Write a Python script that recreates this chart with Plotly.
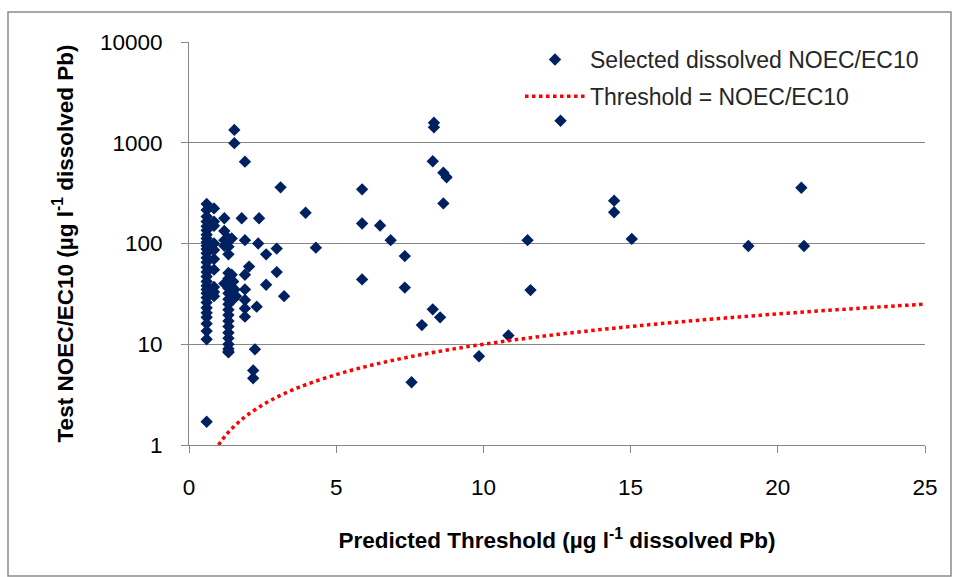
import plotly.graph_objects as go

# Selected dissolved NOEC/EC10 vs predicted threshold
pred_threshold = [
    # x ~0.6 dense column
    0.6, 0.6, 0.6, 0.6, 0.6, 0.6, 0.6, 0.6, 0.6, 0.6,
    0.6, 0.6, 0.6, 0.6, 0.6, 0.6, 0.6, 0.6, 0.6, 0.6,
    0.6, 0.6, 0.6, 0.6, 0.6, 0.6, 0.6, 0.6, 0.6, 0.6,
    # x ~0.85
    0.85, 0.85, 0.85, 0.85, 0.85, 0.85, 0.85, 0.85, 0.85, 0.85,
    # x ~1.2
    1.2, 1.2, 1.2, 1.2, 1.2,
    # x ~1.34 column
    1.34, 1.34, 1.34, 1.34, 1.34, 1.34, 1.34, 1.34, 1.34, 1.34,
    1.34, 1.34, 1.34, 1.34, 1.34, 1.34, 1.34, 1.34, 1.34, 1.34,
    # x ~1.45-1.6
    1.54, 1.54, 1.45, 1.45, 1.6, 1.55, 1.5, 1.5,
    # x ~1.8-2.05
    1.9, 1.79, 1.9, 1.9, 1.9, 1.9, 1.9, 1.9, 2.04,
    # x ~2.2-2.4
    2.38, 2.35, 2.3, 2.24, 2.18, 2.18,
    # x ~2.6-4.3
    2.62, 2.62, 2.98, 2.98, 3.11, 3.23, 3.96, 4.31,
    # x > 5
    5.88, 5.88, 5.88, 6.49, 6.85, 7.33, 7.33, 7.56, 7.91,
    8.28, 8.28, 8.32, 8.32, 8.64, 8.64, 8.75, 8.53,
    9.85, 10.85, 11.5, 11.6, 12.62, 14.44, 14.44, 15.04,
    19.0, 20.8, 20.89,
]
test_noec = [
    247, 215, 185, 165, 148, 135, 122, 112, 103, 95,
    88, 80, 72, 65, 58, 52, 47, 42, 38, 35,
    32, 29, 26, 23, 20.5, 18.5, 16, 13.5, 11.2, 1.7,
    223, 165, 150, 100, 86, 70, 55, 37, 33, 30,
    178, 133, 108, 95, 40,
    112, 93, 78, 51, 45, 40, 36, 32, 28, 25,
    22, 19.5, 17, 15, 13, 11.5, 10, 9, 8.5, 8.3,
    1340, 990, 112, 49, 30, 35, 42, 28,
    649, 178, 108, 49, 35, 27.5, 22.7, 18.8, 59,
    178, 100, 23.6, 8.9, 5.5, 4.6,
    78, 39, 89, 52, 361, 30, 202, 91,
    345, 158, 44, 151, 108, 75, 36.5, 4.2, 15.5,
    655, 22.2, 1580, 1423, 505, 250, 454, 18.5,
    7.6, 12.2, 108, 34.5, 1655, 266, 204, 111,
    94.5, 358, 94.5,
]

# 1:1 line (Threshold = NOEC/EC10)
threshold_x = [1, 1.25, 1.5, 1.75, 2, 2.5, 3, 3.5, 4, 5, 6, 7, 8, 9, 10,
               11, 12, 13, 14, 15, 16, 17, 18, 19, 20, 21, 22, 23, 24, 25]
threshold_y = [1, 1.25, 1.5, 1.75, 2, 2.5, 3, 3.5, 4, 5, 6, 7, 8, 9, 10,
               11, 12, 13, 14, 15, 16, 17, 18, 19, 20, 21, 22, 23, 24, 25]

x_ticks = [0, 5, 10, 15, 20, 25]
y_ticks = [1, 10, 100, 1000, 10000]
y_ticklabels = ["1", "10", "100", "1000", "10000"]

FONT = "Liberation Sans"

fig = go.Figure()
fig.add_trace(go.Scatter(
    x=pred_threshold, y=test_noec, mode="markers",
    name="Selected dissolved NOEC/EC10", legendgroup="a",
    marker=dict(symbol="diamond", size=9.5, color="#002060", line=dict(width=0)),
))
fig.add_trace(go.Scatter(
    x=threshold_x, y=threshold_y, mode="lines", line_shape="spline",
    name="Threshold = NOEC/EC10", legendgroup="b",
    line=dict(color="#FF0000", width=3.5, dash="3.5px,3.5px"),
))

L, R, T, B = 189, 925, 42, 445
W, H = 959, 577
pw, ph = R - L, B - T

def px_x(p):
    return (p - L) / pw

def px_y(p):
    return (B - p) / ph

fig.update_layout(
    width=W, height=H,
    margin=dict(l=L, r=W - R, t=T, b=H - B),
    paper_bgcolor="white", plot_bgcolor="white",
    font=dict(family=FONT, size=22, color="#000000"),
    showlegend=True,
    legend=dict(x=px_x(520), y=px_y(38), xanchor="left", yanchor="top",
                bgcolor="rgba(255,255,255,0)", font=dict(size=23, color="#262626"),
                itemwidth=60, tracegroupgap=4),
    shapes=[dict(type="rect", xref="paper", yref="paper",
                 x0=px_x(8), x1=px_x(951), y0=px_y(576), y1=px_y(12),
                 line=dict(color="#8c8c8c", width=1.5), layer="below")],
)
fig.update_xaxes(
    range=[0, 25], tickvals=x_ticks, ticks="outside", ticklen=7, tickcolor="#868686",
    showline=True, linecolor="#868686", linewidth=1, showgrid=False, zeroline=False,
    ticklabelstandoff=15, tickfont=dict(size=22.5, color="#000000"),
    title=dict(text="<b>Predicted Threshold (µg l<sup>-1</sup> dissolved Pb)</b>",
               font=dict(size=22.5, color="#000000"), standoff=33),
)
fig.update_yaxes(
    type="log", range=[0, 4], tickvals=y_ticks, ticktext=y_ticklabels,
    ticks="outside", ticklen=7, tickcolor="#868686",
    showline=True, linecolor="#868686", linewidth=1,
    showgrid=True, gridcolor="#868686", gridwidth=1, zeroline=False,
    ticklabelstandoff=14, tickfont=dict(size=22.5, color="#000000"),
    title=dict(text="<b>Test NOEC/EC10 (µg l<sup>-1</sup> dissolved Pb)</b>",
               font=dict(size=22.5, color="#000000"), standoff=20),
)

fig.write_html("out.html")
